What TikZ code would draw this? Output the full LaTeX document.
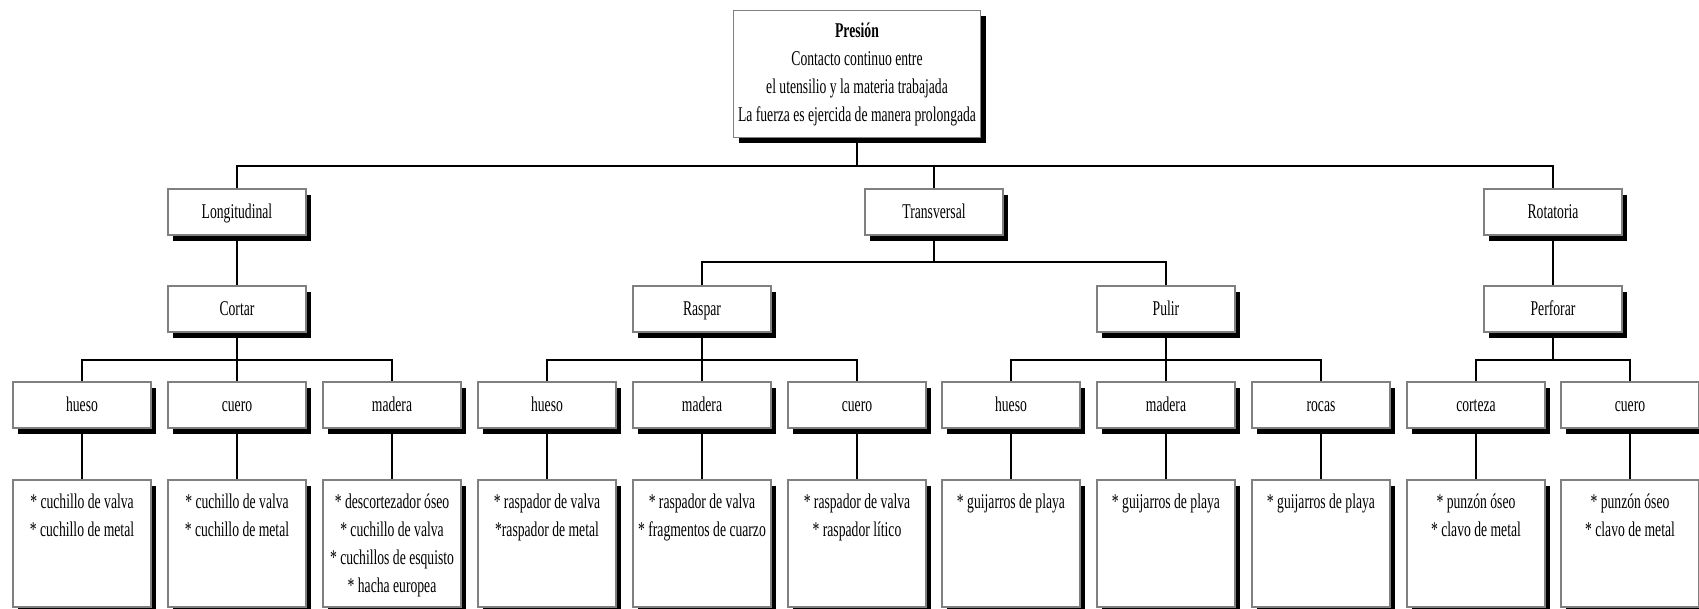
\documentclass[tikz,border=0pt]{standalone}
\usepackage{fontspec}
\setmainfont{Liberation Serif}[FakeStretch=0.65]
\usetikzlibrary{shadows}

\begin{document}
\begin{tikzpicture}[x=0.5pt, y=-0.5pt,
			marco/.style={draw=gray, line width=0.7pt, fill=white, minimum width=69pt, minimum height=23pt, inner sep=0pt,
				drop shadow={shadow xshift=2.5pt, shadow yshift=-3pt, fill=black, opacity=1}},
			caja/.style={marco, text height=7.5pt, text depth=0.5pt},
			hoja/.style={marco, minimum height=63.5pt},
			txt/.style={anchor=north, align=center, inner sep=0pt, yshift=-7pt},
			linea/.style={black, line width=0.75pt},
			font=\fontsize{10.5}{14}\selectfont]
			\useasboundingbox (0,0) rectangle (1699,609);
			% raiz
			\node[marco, minimum width=123.5pt, minimum height=63.5pt, align=center] (presion) at (857,74)
				{\textbf{Presión}\\Contacto continuo entre\\el utensilio y la materia trabajada\\La fuerza es ejercida de manera prolongada};
			% movimientos
			\node[caja] (longi) at (237,212) {Longitudinal};
			\node[caja] (transv) at (934,212) {Transversal};
			\node[caja] (rota) at (1553,212) {Rotatoria};
			% acciones
			\node[caja] (cortar) at (237,309) {Cortar};
			\node[caja] (raspar) at (702,309) {Raspar};
			\node[caja] (pulir) at (1166,309) {Pulir};
			\node[caja] (perforar) at (1553,309) {Perforar};
			% materias
			\node[caja] (ch) at (82,405) {hueso};
			\node[caja] (cc) at (237,405) {cuero};
			\node[caja] (cm) at (392,405) {madera};
			\node[caja] (rh) at (547,405) {hueso};
			\node[caja] (rm) at (702,405) {madera};
			\node[caja] (rc) at (857,405) {cuero};
			\node[caja] (ph) at (1011,405) {hueso};
			\node[caja] (pm) at (1166,405) {madera};
			\node[caja] (pr) at (1321,405) {rocas};
			\node[caja] (fc) at (1476,405) {corteza};
			\node[caja] (fu) at (1630,405) {cuero};
			% utensilios
			\node[hoja, label={[txt]north:{* cuchillo de valva\\* cuchillo de metal}}] (chx) at (82,543.5) {};
			\node[hoja, label={[txt]north:{* cuchillo de valva\\* cuchillo de metal}}] (ccx) at (237,543.5) {};
			\node[hoja, label={[txt]north:{* descortezador óseo\\* cuchillo de valva\\* cuchillos de esquisto\\* hacha europea}}] (cmx) at (392,543.5) {};
			\node[hoja, label={[txt]north:{* raspador de valva\\*raspador de metal}}] (rhx) at (547,543.5) {};
			\node[hoja, label={[txt]north:{* raspador de valva\\* fragmentos de cuarzo}}] (rmx) at (702,543.5) {};
			\node[hoja, label={[txt]north:{* raspador de valva\\* raspador lítico}}] (rcx) at (857,543.5) {};
			\node[hoja, label={[txt]north:{* guijarros de playa}}] (phx) at (1011,543.5) {};
			\node[hoja, label={[txt]north:{* guijarros de playa}}] (pmx) at (1166,543.5) {};
			\node[hoja, label={[txt]north:{* guijarros de playa}}] (prx) at (1321,543.5) {};
			\node[hoja, label={[txt]north:{* punzón óseo\\* clavo de metal}}] (fcx) at (1476,543.5) {};
			\node[hoja, label={[txt]north:{* punzón óseo\\* clavo de metal}}] (fux) at (1630,543.5) {};
			% barras
			\coordinate (b1) at (857,166);
			\coordinate (b2) at (934,262);
			\coordinate (b3) at (237,360);
			\coordinate (b4) at (702,360);
			\coordinate (b5) at (1166,360);
			\coordinate (b6) at (1553,360);
			\draw[linea] (presion.south) -- (b1);
			\draw[linea] (longi.north) |- (b1) -| (rota.north);
			\draw[linea] (transv.north) -- (transv.north |- b1);
			\draw[linea] (longi.south) -- (cortar.north);
			\draw[linea] (rota.south) -- (perforar.north);
			\draw[linea] (transv.south) -- (b2);
			\draw[linea] (raspar.north) |- (b2) -| (pulir.north);
			\draw[linea] (cortar.south) -- (b3);
			\draw[linea] (ch.north) |- (b3) -| (cm.north);
			\draw[linea] (cc.north) -- (b3);
			\draw[linea] (raspar.south) -- (b4);
			\draw[linea] (rh.north) |- (b4) -| (rc.north);
			\draw[linea] (rm.north) -- (b4);
			\draw[linea] (pulir.south) -- (b5);
			\draw[linea] (ph.north) |- (b5) -| (pr.north);
			\draw[linea] (pm.north) -- (b5);
			\draw[linea] (perforar.south) -- (b6);
			\draw[linea] (fc.north) |- (b6) -| (fu.north);
			\foreach \m in {ch,cc,cm,rh,rm,rc,ph,pm,pr,fc,fu}
				\draw[linea] (\m.south) -- (\m x.north);
		\end{tikzpicture}
\end{document}
